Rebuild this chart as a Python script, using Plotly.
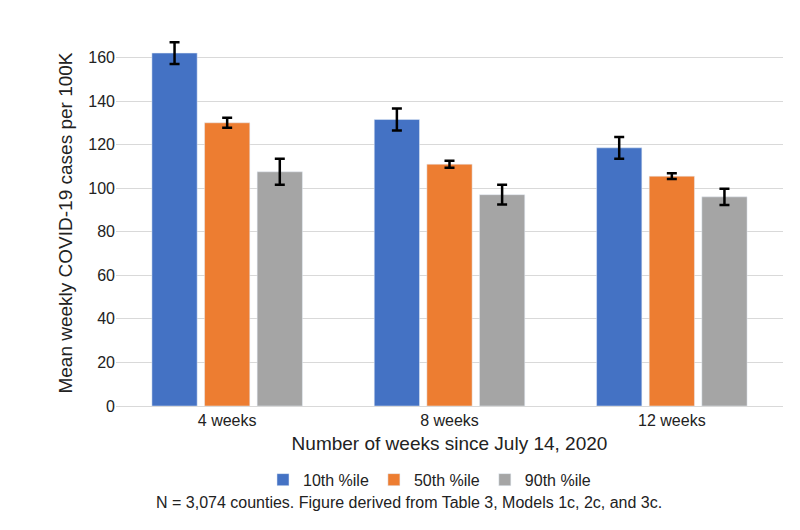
import plotly.graph_objects as go

categories = ["4 weeks", "8 weeks", "12 weeks"]
series_names = ["10th %ile", "50th %ile", "90th %ile"]
values = [[162, 131.5, 118.5], [130, 111, 105.5], [107.5, 97, 96]]
errors = [[5, 5, 5], [2.3, 1.6, 1.3], [6, 4.5, 3.7]]
colors = ["#4472C4", "#ED7D31", "#A5A5A5"]

fig = go.Figure()
for n, v, e, c in zip(series_names, values, errors, colors):
    fig.add_trace(go.Bar(name=n, x=categories, y=v, marker_color=c,
                         error_y=dict(type="data", array=e, color="black", thickness=2.5, width=5)))

fig.update_layout(
    width=800, height=530, barmode="group", bargap=0.29, bargroupgap=0.14,
    plot_bgcolor="white", paper_bgcolor="white",
    font=dict(family="Liberation Sans, Arial", size=16, color="#222"),
    margin=dict(l=108, r=25, t=32, b=132, autoexpand=False),
    xaxis=dict(title=dict(text="Number of weeks since July 14, 2020", standoff=8),
               showline=True, linecolor="#d9d9d9", ticks="", automargin=False),
    yaxis=dict(title=dict(text="Mean weekly COVID-19 cases per 100K", standoff=10),
               range=[0, 168], tickvals=list(range(0, 161, 20)),
               gridcolor="#d9d9d9", zeroline=False, automargin=False),
    legend=dict(orientation="h", x=0.47, xanchor="center", y=-0.155, yanchor="top",
                font=dict(size=16)),
    annotations=[dict(text="N = 3,074 counties. Figure derived from Table 3, Models 1c, 2c, and 3c.",
                      xref="paper", yref="paper", x=0.44, y=-0.235, yanchor="top",
                      showarrow=False, font=dict(size=16))],
)
fig.write_html("out.html")
